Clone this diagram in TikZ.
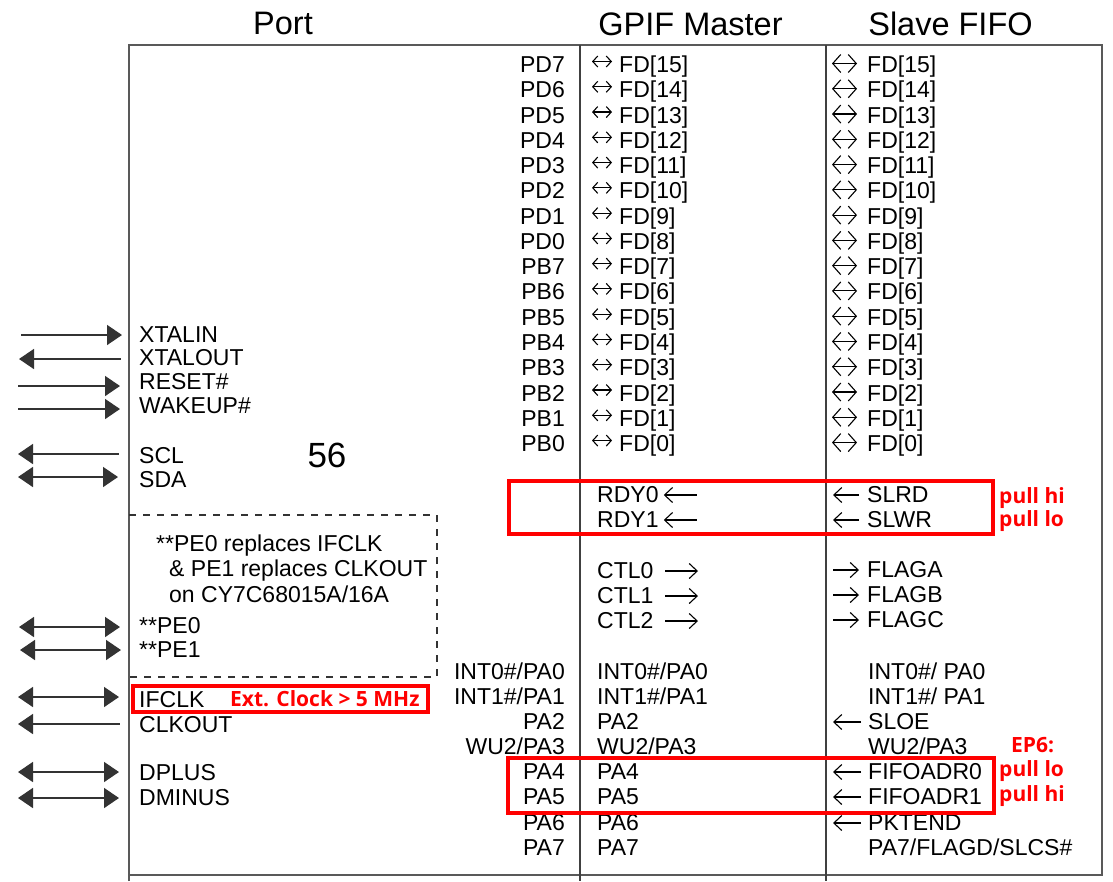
\documentclass[tikz,border=0pt]{standalone}
\usepackage{fontspec}
\setmainfont{Liberation Sans}
\newfontfamily\redfont{Open Sans}
\usetikzlibrary{arrows.meta}
\tikzset{
  lbl/.style={inner sep=0pt, font=\fontsize{23}{26}\selectfont},
  lr/.style={lbl, anchor=base east},
  ll/.style={lbl, anchor=base west},
  hd/.style={inner sep=0pt, anchor=base, font=\fontsize{32.5}{36}\selectfont},
  bignum/.style={inner sep=0pt, anchor=base, font=\fontsize{35}{40}\selectfont},
  rtxt/.style={inner sep=0pt, anchor=base west, text=red, font=\redfont\bfseries\fontsize{21}{24}\selectfont},
  rbox/.style={draw=red, line width=4pt},
  frame/.style={draw=black!65, line width=2pt},
  colline/.style={draw=black!75, line width=1.5pt},
  dbox/.style={draw=black!80, line width=1.3pt, dash pattern=on 7pt off 7pt},
  pin/.style={draw=black!80, line width=1.6pt, >={Triangle[length=15pt,width=20pt]}},
  gfd/.style={line width=1.1pt, arrows={Straight Barb[length=5pt,width=11pt]-Straight Barb[length=5pt,width=11pt]}},
  sfd/.style={line width=1.1pt, arrows={Straight Barb[length=8pt,width=18pt]-Straight Barb[length=8pt,width=18pt]}},
  sgl/.style={line width=1.1pt, arrows={-Straight Barb[length=8pt,width=15pt]}},
}
\begin{document}
\begin{tikzpicture}[x=1pt,y=-1pt]
\useasboundingbox (0,0) rectangle (1113,881);

% headings
\node[hd] (hport) at (283,34) {Port};
\node[hd] (hgpif) at (690.5,35) {GPIF Master};
\node[hd] (hslave) at (950.5,35) {Slave FIFO};

% frame and column lines
\draw[frame] (129,881) -- (129,45) -- (1102,45) -- (1102,875) -- (129,875);
\draw[colline] (580,45) -- (580,881);
\draw[colline] (826,45) -- (826,881);

% FD rows
\foreach \p/\f [count=\i from 0] in {PD7/15,PD6/14,PD5/13,PD4/12,PD3/11,PD2/10,PD1/9,PD0/8,PB7/7,PB6/6,PB5/5,PB4/4,PB3/3,PB2/2,PB1/1,PB0/0} {
  \pgfmathsetmacro\yy{72.5+25.27*\i}
  \node[lr] (p\i) at (565,\yy) {\p};
  \node[ll] (g\i) at (619,\yy) {FD[\f]};
  \node[ll] (s\i) at (867,\yy) {FD[\f]};
  \draw[gfd] ([xshift=-27pt,yshift=11pt]g\i.base west) -- ++(20,0);
  \draw[sfd] ([xshift=-35pt,yshift=9pt]s\i.base west) -- ++(25,0);
}

% RDY / SLRD
\node[ll] (rdy0) at (597,502) {RDY0};
\node[ll] (rdy1) at (597,527) {RDY1};
\draw[sgl] ([xshift=38pt,yshift=7pt]rdy0.base east) -- ++(-33,0);
\draw[sgl] ([xshift=38pt,yshift=7pt]rdy1.base east) -- ++(-33,0);
\node[ll] (slrd) at (867,502) {SLRD};
\node[ll] (slwr) at (867,527) {SLWR};
\draw[sgl] ([xshift=-8pt,yshift=7pt]slrd.base west) -- ++(-26,0);
\draw[sgl] ([xshift=-8pt,yshift=7pt]slwr.base west) -- ++(-26,0);

% CTL / FLAG
\node[ll] (ctl0) at (597,578) {CTL0};
\node[ll] (ctl1) at (597,603) {CTL1};
\node[ll] (ctl2) at (597,628) {CTL2};
\draw[sgl] ([xshift=68pt,yshift=7pt]ctl0.base west) -- ++(33,0);
\draw[sgl] ([xshift=68pt,yshift=7pt]ctl1.base west) -- ++(33,0);
\draw[sgl] ([xshift=68pt,yshift=7pt]ctl2.base west) -- ++(33,0);
\node[ll] (flaga) at (867,577) {FLAGA};
\node[ll] (flagb) at (867,602) {FLAGB};
\node[ll] (flagc) at (867,627) {FLAGC};
\draw[sgl] ([xshift=-34pt,yshift=7pt]flaga.base west) -- ++(26,0);
\draw[sgl] ([xshift=-34pt,yshift=7pt]flagb.base west) -- ++(26,0);
\draw[sgl] ([xshift=-34pt,yshift=7pt]flagc.base west) -- ++(26,0);

% Port A rows
\node[lr] (pa0) at (565,679) {INT0\#/PA0};
\node[lr] (pa1) at (565,704) {INT1\#/PA1};
\node[lr] (pa2) at (565,729) {PA2};
\node[lr] (pa3) at (565,754) {WU2/PA3};
\node[lr] (pa4) at (565,779) {PA4};
\node[lr] (pa5) at (565,804) {PA5};
\node[lr] (pa6) at (565,830) {PA6};
\node[lr] (pa7) at (565,855) {PA7};

\node[ll] (ga0) at (597,679) {INT0\#/PA0};
\node[ll] (ga1) at (597,704) {INT1\#/PA1};
\node[ll] (ga2) at (597,729) {PA2};
\node[ll] (ga3) at (597,754) {WU2/PA3};
\node[ll] (ga4) at (597,779) {PA4};
\node[ll] (ga5) at (597,804) {PA5};
\node[ll] (ga6) at (597,830) {PA6};
\node[ll] (ga7) at (597,855) {PA7};

\node[ll] (sa0) at (868,679) {INT0\#/ PA0};
\node[ll] (sa1) at (868,704) {INT1\#/ PA1};
\node[ll] (sa2) at (868,729) {SLOE};
\node[ll] (sa3) at (868,754) {WU2/PA3};
\node[ll] (sa4) at (868,779) {FIFOADR0};
\node[ll] (sa5) at (868,804) {FIFOADR1};
\node[ll] (sa6) at (868,830) {PKTEND};
\node[ll] (sa7) at (868,855) {PA7/FLAGD/SLCS\#};
\foreach \n in {sa2,sa4,sa5,sa6}
  \draw[sgl] ([xshift=-7pt,yshift=7pt]\n.base west) -- ++(-28,0);

% left pins
\node[ll] (xin) at (139,342) {XTALIN};
\node[ll] (xout) at (139,365) {XTALOUT};
\node[ll] (rst) at (139,389) {RESET\#};
\node[ll] (wake) at (139,413) {WAKEUP\#};
\node[ll] (scl) at (139,463) {SCL};
\node[ll] (sda) at (139,487) {SDA};
\node[ll] (pe0) at (139,633) {**PE0};
\node[ll] (pe1) at (139,657) {**PE1};
\node[ll] (ifclk) at (139,707) {IFCLK};
\node[ll] (clkout) at (139,732) {CLKOUT};
\node[ll] (dplus) at (139,780) {DPLUS};
\node[ll] (dminus) at (139,805) {DMINUS};

\coordinate (a1) at (21,335);  \coordinate (b1) at (122,335);
\coordinate (a2) at (19,359);  \coordinate (b2) at (121,359);
\coordinate (a3) at (18,386);  \coordinate (b3) at (120,386);
\coordinate (a4) at (18,409);  \coordinate (b4) at (120,409);
\coordinate (a5) at (18,454);  \coordinate (b5) at (119,454);
\coordinate (a6) at (18,477);  \coordinate (b6) at (118,477);
\coordinate (a7) at (19,627);  \coordinate (b7) at (120,627);
\coordinate (a8) at (20,650);  \coordinate (b8) at (121,650);
\coordinate (a9) at (18,697);  \coordinate (b9) at (119,697);
\coordinate (a10) at (18,724); \coordinate (b10) at (120,724);
\coordinate (a11) at (18,772); \coordinate (b11) at (119,772);
\coordinate (a12) at (18,798); \coordinate (b12) at (119,798);
\draw[pin,->] (a1) -- (b1);
\draw[pin,<-] (a2) -- (b2);
\draw[pin,->] (a3) -- (b3);
\draw[pin,->] (a4) -- (b4);
\draw[pin,<-] (a5) -- (b5);
\draw[pin,<->] (a6) -- (b6);
\draw[pin,<->] (a7) -- (b7);
\draw[pin,<->] (a8) -- (b8);
\draw[pin,<->] (a9) -- (b9);
\draw[pin,<-] (a10) -- (b10);
\draw[pin,<->] (a11) -- (b11);
\draw[pin,<->] (a12) -- (b12);

\node[bignum] (n56) at (327,467) {56};

% dashed note box
\draw[dbox] (129,515) -- (437,515) -- (437,677) -- (129,677);
\node[ll] (note1) at (156,551) {**PE0 replaces IFCLK};
\node[ll] (note2) at (169,576) {\& PE1 replaces CLKOUT};
\node[ll] (note3) at (169,602) {on CY7C68015A/16A};

% red annotations
\draw[rbox] (509,481) rectangle (993,534);
\draw[rbox] (508,758) rectangle (994,813);
\draw[rbox] (133,686) rectangle (428,712);
\node[rtxt] (ext) at (230,706) {Ext. Clock > 5 MHz};
\node[rtxt] (ph1) at (999,503) {pull hi};
\node[rtxt] (pl1) at (999,526) {pull lo};
\node[rtxt] (ep6) at (1011,752) {EP6:};
\node[rtxt] (pl2) at (999,776) {pull lo};
\node[rtxt] (ph2) at (999,801) {pull hi};
\end{tikzpicture}
\end{document}
